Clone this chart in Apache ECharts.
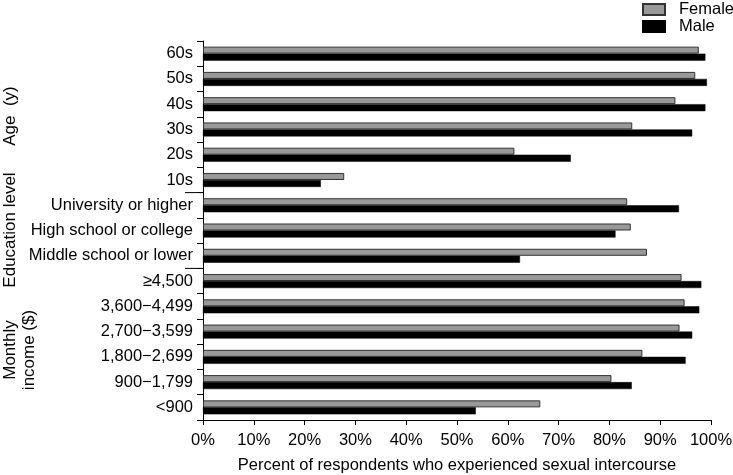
<!DOCTYPE html>
<html>
<head>
<meta charset="utf-8">
<title>Sexual intercourse by group</title>
<script src="https://cdn.jsdelivr.net/npm/echarts@6/dist/echarts.min.js"></script>
<style>
  html, body { margin: 0; padding: 0; background: #fff; }
  #main { width: 733px; height: 475px; }
</style>
</head>
<body>
<div id="main"></div>
<script>
// categories from bottom to top
var categories = ['<900', '900\u22121,799', '1,800\u22122,699', '2,700\u22123,599', '3,600\u22124,499', '\u22654,500',
  'Middle school or lower', 'High school or college', 'University or higher',
  '10s', '20s', '30s', '40s', '50s', '60s'];
var female = [66.4, 80.4, 86.5, 93.8, 94.8, 94.2, 87.4, 84.2, 83.5, 27.8, 61.3, 84.5, 93.0, 96.9, 97.6];
var male = [53.7, 84.4, 95.0, 96.3, 97.7, 98.1, 62.4, 81.2, 93.7, 23.2, 72.4, 96.3, 98.9, 99.2, 98.9];
var xTicks = [0, 10, 20, 30, 40, 50, 60, 70, 80, 90, 100];
// first category of each group (above the bottom group)
var groupStarts = [6, 9];

var font = 'Liberation Sans, Arial, sans-serif';
var chart = echarts.init(document.getElementById('main'));

chart.setOption({
  animation: false,
  textStyle: { fontFamily: font, color: '#000' },
  legend: {
    data: ['Female', 'Male'],
    orient: 'vertical',
    left: 637, top: -4,
    itemWidth: 22, itemHeight: 11, itemGap: 0,
    icon: 'rect',
    textStyle: { fontSize: 16.5, color: '#000', fontFamily: font, padding: [0, 0, 0, 9] }
  },
  grid: { left: 203, right: 22, top: 41, bottom: 55, outerBoundsMode: 'none', containLabel: false },
  xAxis: {
    type: 'value',
    min: 0, max: 100, interval: 10,
    name: 'Percent of respondents who experienced sexual intercourse',
    nameLocation: 'middle', nameGap: 37,
    nameTextStyle: { fontSize: 16.5, color: '#000' },
    axisLine: { show: true, lineStyle: { color: '#000', width: 1 } },
    axisTick: { show: true, length: 5, lineStyle: { color: '#000' } },
    axisLabel: { fontSize: 16.5, color: '#000', margin: 12,
      formatter: function (v) { return xTicks.indexOf(v) >= 0 ? v + '%' : ''; } },
    splitLine: { show: false }
  },
  yAxis: {
    type: 'category',
    data: categories,
    axisLine: { show: true, lineStyle: { color: '#000', width: 1 } },
    axisTick: { show: true, length: 6, lineStyle: { color: '#000' } },
    axisLabel: { fontSize: 16.5, color: '#000', margin: 10 }
  },
  series: [{
    name: 'Female',
    type: 'bar',
    data: female,
    barWidth: 7,
    barGap: '0%',
    itemStyle: { color: '#999999', borderColor: '#333', borderWidth: 1 }
  }, {
    name: 'Male',
    type: 'bar',
    data: male,
    barWidth: 7,
    barGap: '0%',
    itemStyle: { color: '#000', borderColor: '#000', borderWidth: 0.5 }
  }]
});

// longer ticks between groups, placed from the axis scale
var x0 = chart.convertToPixel({ xAxisIndex: 0 }, 0);
var seps = groupStarts.map(function (i) {
  var y = (chart.convertToPixel({ yAxisIndex: 0 }, categories[i]) +
           chart.convertToPixel({ yAxisIndex: 0 }, categories[i - 1])) / 2;
  return { type: 'line', shape: { x1: x0 - 18, y1: y, x2: x0, y2: y },
           style: { stroke: '#000', lineWidth: 1 } };
});

var labelStyle = { font: '17px ' + font, fill: '#000', align: 'center', verticalAlign: 'middle' };
chart.setOption({
  graphic: seps.concat([
    { type: 'text', x: 10, y: 116, rotation: Math.PI / 2,
      style: Object.assign({ text: 'Age  (y)' }, labelStyle) },
    { type: 'text', x: 10, y: 230, rotation: Math.PI / 2,
      style: Object.assign({ text: 'Education level' }, labelStyle) },
    { type: 'text', x: 10, y: 350, rotation: Math.PI / 2,
      style: Object.assign({ text: 'Monthly' }, labelStyle) },
    { type: 'text', x: 29, y: 350, rotation: Math.PI / 2,
      style: Object.assign({ text: 'income ($)' }, labelStyle) }
  ])
});
</script>
</body>
</html>
